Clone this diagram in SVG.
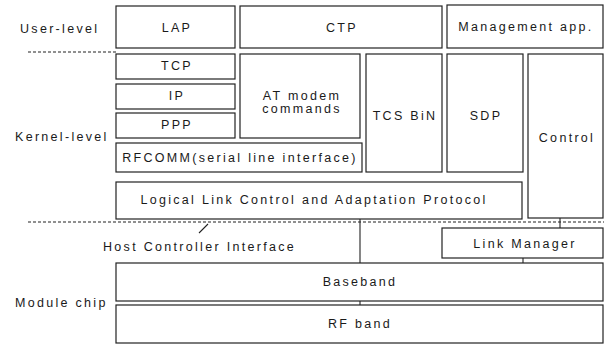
<svg xmlns="http://www.w3.org/2000/svg" width="605" height="345" viewBox="0 0 605 345">
<style>
rect{fill:#fff;stroke:#222;stroke-width:1.2}
text{font-family:"Liberation Sans",Arial,sans-serif;font-size:12.5px;fill:#1a1a1a;letter-spacing:2.3px;text-anchor:middle;dominant-baseline:central}
.lbl{text-anchor:start}
.c line{stroke:#222;stroke-width:1.1}
.d{stroke:#222;stroke-width:1;stroke-dasharray:3,2;fill:none}
</style>
<rect x="0" y="0" width="605" height="345" style="stroke:none"/>
<g id="labels">
<text class="lbl" x="20" y="29">User-level</text>
<text class="lbl" x="15" y="137">Kernel-level</text>
<text class="lbl" x="15" y="303">Module chip</text>
<text class="lbl" x="103" y="247">Host Controller Interface</text>
</g>
<g class="c" id="connectors">
<line class="d" x1="28" y1="52" x2="116" y2="52"/>
<line class="d" x1="28" y1="222" x2="604" y2="222"/>
<line x1="199" y1="233" x2="208" y2="224"/>
<line x1="360" y1="219" x2="360" y2="263"/>
<line x1="360" y1="301" x2="360" y2="305"/>
<line x1="560" y1="218" x2="560" y2="228"/>
<line x1="523" y1="258" x2="523" y2="263"/>
</g>
<g id="lap"><rect x="116" y="6" width="119" height="42"/><text x="177" y="28">LAP</text></g>
<g id="ctp"><rect x="240" y="6" width="202" height="42"/><text x="342" y="28">CTP</text></g>
<g id="mgmt"><rect x="447" y="5" width="156" height="43"/><text x="526" y="27">Management app.</text></g>
<g id="tcp"><rect x="116" y="54" width="119" height="25"/><text x="177" y="66">TCP</text></g>
<g id="ip"><rect x="116" y="84" width="119" height="25"/><text x="177" y="96">IP</text></g>
<g id="ppp"><rect x="116" y="113" width="119" height="25"/><text x="177" y="125">PPP</text></g>
<g id="rfcomm"><rect x="116" y="143" width="246" height="29"/><text x="240" y="158">RFCOMM(serial line interface)</text></g>
<g id="at"><rect x="240" y="54" width="120" height="84"/><text x="302" y="96">AT modem</text><text x="302" y="109">commands</text></g>
<g id="tcs"><rect x="366" y="54" width="76" height="118"/><text x="405" y="116">TCS BiN</text></g>
<g id="sdp"><rect x="447" y="54" width="76" height="118"/><text x="486" y="116">SDP</text></g>
<g id="control"><rect x="528" y="54" width="75" height="164"/><text x="567" y="138">Control</text></g>
<g id="l2cap"><rect x="116" y="182" width="406" height="37"/><text x="314" y="200">Logical Link Control and Adaptation Protocol</text></g>
<g id="lm"><rect x="442" y="228" width="161" height="30"/><text x="525" y="244">Link Manager</text></g>
<g id="baseband"><rect x="116" y="263" width="487" height="38"/><text x="360" y="282">Baseband</text></g>
<g id="rf"><rect x="116" y="305" width="487" height="38"/><text x="360" y="324">RF band</text></g>
</svg>
